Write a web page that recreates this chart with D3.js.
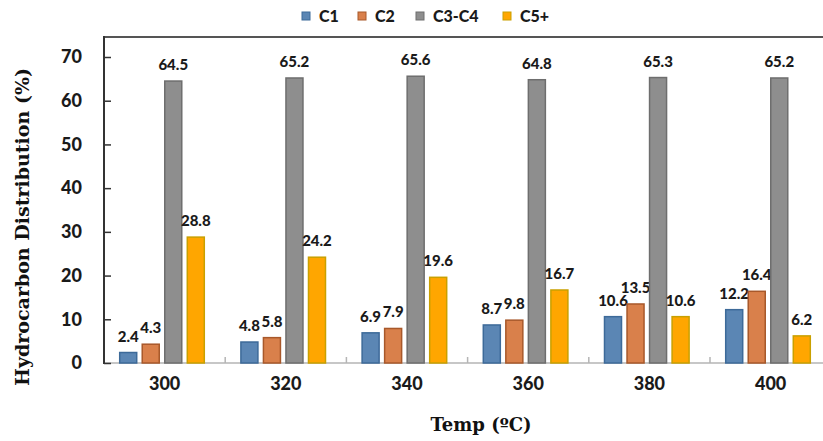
<!DOCTYPE html>
<html><head><meta charset="utf-8">
<script src="https://cdn.jsdelivr.net/npm/d3@7"></script>
<style>body{margin:0;background:#fff}svg{display:block}</style>
</head><body><svg id="c" width="823" height="441"></svg>
<script>
const categories = ["300","320","340","360","380","400"];
const seriesNames = ["C1","C2","C3-C4","C5+"];
const c1 = [2.4,4.8,6.9,8.7,10.6,12.2];
const c2 = [4.3,5.8,7.9,9.8,13.5,16.4];
const c3c4 = [64.5,65.2,65.6,64.8,65.3,65.2];
const c5p = [28.8,24.2,19.6,16.7,10.6,6.2];
const yTicks = [0,10,20,30,40,50,60,70];
const seriesValues = [c1,c2,c3c4,c5p];
const fills = ["#5b86b4","#d9804b","#8e8e8e","#ffa600"];
const strokes = ["#3d6a99","#a8582a","#6e6e6e","#c9a000"];

const svg = d3.select("#c");
const plotLeft = 104, plotTop = 37, baseY = 363;
const x0 = d3.scaleBand().domain(categories).range([plotLeft, plotLeft + 6*121.2]).padding(0);
const x1 = d3.scaleBand().domain(seriesNames).range([13, 13+90]).paddingInner(0.245).paddingOuter(0.12);
const y = d3.scaleLinear().domain([0,70]).range([baseY, 57]);

svg.append("line").attr("x1",plotLeft).attr("x2",823).attr("y1",plotTop).attr("y2",plotTop)
  .attr("stroke","#555").attr("stroke-width",2);

svg.append("line").attr("x1",plotLeft).attr("x2",823).attr("y1",baseY).attr("y2",baseY)
  .attr("stroke","#b5b5b5").attr("stroke-width",1.5);
categories.slice(1).forEach(c=>{
  svg.append("line").attr("x1",x0(c)).attr("x2",x0(c)).attr("y1",baseY).attr("y2",baseY-6)
    .attr("stroke","#b5b5b5").attr("stroke-width",1.5);
});

const groups = svg.append("g").selectAll("g").data(categories).join("g")
  .attr("transform",c=>`translate(${x0(c)},0)`);
seriesNames.forEach((s,si)=>{
  groups.append("rect")
    .attr("x",x1(s)).attr("width",x1.bandwidth())
    .attr("y",(c,i)=>y(seriesValues[si][i]))
    .attr("height",(c,i)=>baseY-y(seriesValues[si][i]))
    .attr("fill",fills[si]).attr("stroke",strokes[si]).attr("stroke-width",1.5);
  groups.append("text")
    .attr("x",x1(s)+x1.bandwidth()/2)
    .attr("y",(c,i)=>y(seriesValues[si][i])-11)
    .attr("text-anchor","middle")
    .attr("font-family","Lato").attr("font-weight",900).attr("font-size",15)
    .attr("fill","#1a1a1a")
    .text((c,i)=>seriesValues[si][i].toFixed(1));
});

const yAxis = d3.axisLeft(y).tickValues(yTicks).tickSize(-7).tickPadding(22);
const ya = svg.append("g").attr("transform",`translate(${plotLeft},0)`).call(yAxis);
ya.select(".domain").remove();
ya.selectAll(".tick line").attr("stroke","#333").attr("stroke-width",1.5);
ya.selectAll(".tick text").attr("font-family","Lato").attr("font-weight",900).attr("font-size",18).attr("fill","#1a1a1a");
svg.append("line").attr("x1",plotLeft).attr("x2",plotLeft).attr("y1",plotTop-1).attr("y2",baseY+1)
  .attr("stroke","#333").attr("stroke-width",2);

const xAxis = d3.axisBottom(x0).tickSize(0).tickPadding(14);
const xa = svg.append("g").attr("transform",`translate(0,${baseY})`).call(xAxis);
xa.select(".domain").remove();
xa.selectAll(".tick text").attr("font-family","Lato").attr("font-weight",900).attr("font-size",18).attr("fill","#1a1a1a");

svg.append("text").attr("x",481).attr("y",431).attr("text-anchor","middle")
  .attr("font-family","DejaVu Serif").attr("font-weight","bold").attr("font-size",18).attr("fill","#111")
  .text("Temp (ºC)");
svg.append("text").attr("transform","translate(29,227) rotate(-90)").attr("text-anchor","middle")
  .attr("font-family","DejaVu Serif").attr("font-weight","bold").attr("font-size",19).attr("fill","#111")
  .text("Hydrocarbon Distribution (%)");

const legX = [302,358,416,503];
seriesNames.forEach((s,i)=>{
  svg.append("rect").attr("x",legX[i]).attr("y",12).attr("width",8).attr("height",8)
    .attr("fill",fills[i]).attr("stroke",strokes[i]).attr("stroke-width",1);
  svg.append("text").attr("x",legX[i]+17).attr("y",22)
    .attr("font-family","Lato").attr("font-weight",900).attr("font-size",16).attr("fill","#1a1a1a").text(s);
});
</script></body></html>
